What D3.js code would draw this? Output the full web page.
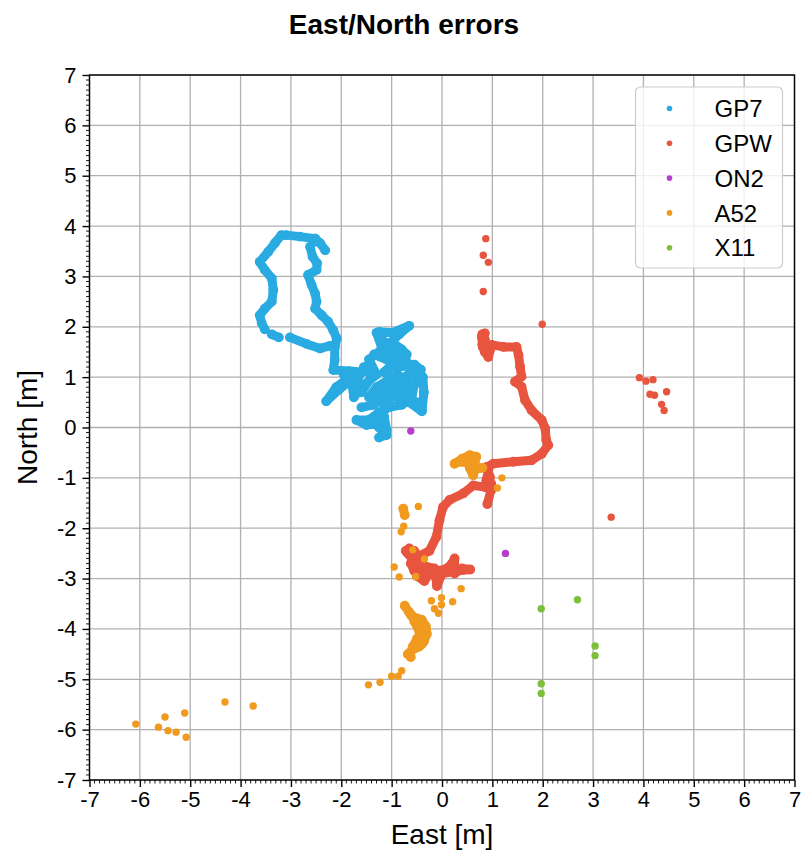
<!DOCTYPE html>
<html>
<head>
<meta charset="utf-8">
<script src="https://cdn.jsdelivr.net/npm/d3@7"></script>
<style>
  body { margin: 0; background: #fff; }
  svg { display: block; font-family: "Liberation Sans", Arial, sans-serif; }
</style>
</head>
<body>
<svg id="chart" width="802" height="856"></svg>
<script>
// ---------------- DATA ----------------
const seriesNames = ["GP7", "GPW", "ON2", "A52", "X11"];
const seriesColors = ["#29abe2", "#e8553f", "#b53fca", "#f09a1f", "#7dbf3b"];
const xTicks = [-7, -6, -5, -4, -3, -2, -1, 0, 1, 2, 3, 4, 5, 6, 7];
const yTicks = [-7, -6, -5, -4, -3, -2, -1, 0, 1, 2, 3, 4, 5, 6, 7];

// GP7 track (null = gap in the trace)
const gp7Track = [
  [-2.32,3.52],[-2.42,3.66],[-2.52,3.75],[-2.82,3.79],[-3.09,3.82],[-3.19,3.82],[-3.32,3.66],
  [-3.45,3.49],[-3.62,3.29],[-3.52,3.13],[-3.38,2.96],[-3.35,2.73],[-3.38,2.50],[-3.52,2.36],
  [-3.62,2.23],[-3.58,2.07],[-3.52,1.95], null,
  [-3.38,1.85],[-3.24,1.79], null,
  [-3.02,1.79],[-2.69,1.66],[-2.42,1.57],[-2.23,1.62],[-2.13,1.60], null,
  [-2.52,3.75],[-2.62,3.59],[-2.57,3.39],[-2.48,3.26],[-2.49,3.13],[-2.66,3.03],[-2.59,2.83],
  [-2.52,2.66],[-2.49,2.50],[-2.52,2.36],[-2.39,2.23],[-2.26,2.10],[-2.16,1.93],[-2.09,1.77],
  [-2.13,1.60],[-2.13,1.34],[-2.16,1.14],
  [-1.85,1.12],[-1.60,1.10],[-1.90,0.95],[-2.10,0.80],[-2.30,0.52],[-2.05,0.75],[-1.80,0.95],
  [-1.75,0.60],[-1.55,0.85],[-1.30,1.05],[-1.45,1.35],[-1.25,1.50],[-1.00,1.60],[-1.20,1.75],
  [-1.25,1.90],[-1.00,1.88],[-0.65,2.02],[-0.85,1.85],[-1.00,1.70],[-0.80,1.55],[-0.70,1.45],
  [-0.95,1.30],[-1.15,1.10],[-0.90,0.90],[-0.60,1.10],[-0.45,1.10],[-0.38,1.00],[-0.36,0.70],
  [-0.40,0.32],[-0.65,0.50],[-0.85,0.75],[-1.05,0.95],[-1.30,0.80],[-1.45,0.60],[-1.20,0.50],
  [-1.00,0.65],[-0.75,0.85],[-0.55,0.85],[-0.60,0.60],[-0.80,0.45],[-1.05,0.40],[-1.25,0.30],
  [-1.45,0.15],[-1.70,0.15],[-1.50,0.05],[-1.25,0.10],[-1.15,0.22],[-1.10,-0.05],[-1.25,-0.20],
  [-1.10,-0.15], null,
  [-1.90,1.00],[-1.60,0.70],[-1.40,1.00],[-1.55,1.20],[-1.70,0.90],[-1.95,1.05], null,
  [-1.00,1.20],[-0.70,1.30],[-0.50,1.00],[-0.60,0.75],[-0.90,0.60],[-1.10,0.80],[-0.90,1.05],[-0.70,0.95], null,
  [-1.35,1.45],[-1.10,1.35],[-0.85,1.20],[-0.55,1.25],[-0.42,1.15], null,
  [-1.60,0.40],[-1.35,0.45],[-1.20,0.70],[-1.05,0.55], null,
  [-0.50,0.50],[-0.40,0.35], null,
  [-1.30,1.88],[-1.20,1.60],[-1.10,1.45],[-0.95,1.48], null,
  [-1.25,0.00],[-1.15,-0.10],[-1.20,0.05]
];

// GPW track
const gpwTrack = [
  [0.85,1.87],[0.79,1.80],[0.81,1.60],[0.85,1.50],[0.92,1.40],[0.99,1.64],[1.22,1.60],[1.48,1.60],
  [1.52,1.44],[1.55,1.21],[1.58,1.01],[1.45,0.91],[1.58,0.81],[1.65,0.54],[1.78,0.34],[1.98,0.15],
  [2.05,-0.02],[2.07,-0.25],[2.11,-0.35],[1.98,-0.52],[1.78,-0.65],[1.42,-0.68],[1.02,-0.72],
  [0.89,-0.78],[0.95,-0.98],[0.97,-1.25],[0.90,-1.52],[0.97,-1.25],[0.85,-1.18],[0.62,-1.15],
  [0.42,-1.31],[0.15,-1.44],[0.02,-1.58],[-0.05,-1.84],[-0.11,-2.17],[-0.25,-2.45],[-0.45,-2.55],
  [-0.65,-2.40],[-0.72,-2.45],[-0.60,-2.60],[-0.45,-2.75],[-0.50,-2.95],[-0.35,-3.05],[-0.25,-2.90],
  [-0.10,-2.85],[0.10,-2.80],[0.20,-2.70],[0.25,-2.60],[0.25,-2.90],[0.40,-2.80],[0.56,-2.82],
  [0.30,-2.85],[0.00,-2.90],[-0.10,-3.15],[-0.15,-2.80],[-0.35,-2.75], null,
  [-0.68,-2.50],[-0.55,-2.45],[-0.50,-2.62],[-0.62,-2.70],[-0.55,-2.85],[-0.42,-2.88], null,
  [0.80,1.85],[0.85,1.75],[0.80,1.65],[0.90,1.52], null,
  [0.92,-0.85],[0.88,-1.05],[0.98,-1.12]
];
// GPW isolated fixes
const gpwPoints = [
  [0.87,3.75],[0.82,3.42],[0.92,3.28],[0.82,2.70],[1.99,2.05],
  [3.92,0.99],[4.05,0.92],[4.19,0.95],[4.46,0.71],[4.13,0.66],[4.22,0.64],[4.36,0.46],[4.41,0.34],
  [3.36,-1.78]
];

const on2Points = [[-0.62,-0.07],[1.26,-2.50]];

// A52 tracks and fixes
const a52Track = [
  [0.25,-0.72],[0.40,-0.62],[0.55,-0.55],[0.68,-0.58],[0.65,-0.75],[0.60,-0.90],[0.70,-0.82],[0.80,-0.80], null,
  [0.35,-0.68],[0.50,-0.70],[0.62,-0.68],[0.55,-0.80],[0.62,-0.95], null,
  [-0.74,-3.54],[-0.66,-3.66],[-0.57,-3.76],[-0.40,-3.82],[-0.32,-3.95],[-0.30,-4.10],[-0.36,-4.25],
  [-0.45,-4.35],[-0.60,-4.42],[-0.68,-4.50],[-0.62,-4.56], null,
  [-0.55,-3.85],[-0.45,-4.05],[-0.40,-4.30], null,
  [-0.62,-3.72],[-0.48,-3.92],[-0.38,-4.00],[-0.50,-4.20],[-0.58,-4.35], null,
  [-0.77,-1.61],[-0.74,-1.74]
];
const a52Points = [
  [1.19,-1.00],[1.10,-1.20],[-0.47,-1.57],[-0.76,-1.96],[-0.81,-2.07],[-0.58,-2.43],[-0.35,-2.61],
  [-0.95,-2.77],[-0.85,-2.97],[-0.52,-2.96],[0.38,-3.20],[-0.21,-3.44],[-0.01,-3.38],[-0.01,-3.52],
  [0.21,-3.46],[-0.15,-3.60],[-0.07,-3.69],
  [-0.80,-4.83],[-0.87,-4.94],[-1.00,-4.94],[-1.23,-5.06],[-1.46,-5.11],
  [-6.08,-5.89],[-5.50,-5.75],[-5.11,-5.67],[-5.63,-5.95],[-5.44,-6.02],[-5.28,-6.05],[-5.08,-6.15],
  [-4.31,-5.45],[-3.75,-5.53]
];

const x11Points = [[1.97,-3.60],[2.69,-3.42],[3.04,-4.34],[3.04,-4.53],[1.97,-5.09],[1.97,-5.28]];

// ---------------- CHART ----------------
const svg = d3.select("#chart");
const L = 89.5, R = 794.5, T = 75, B = 780;
const x = d3.scaleLinear().domain([-7, 7]).range([L, R]);
const y = d3.scaleLinear().domain([-7, 7]).range([B, T]);

// grid
const grid = svg.append("g");
grid.selectAll(".gx").data(xTicks).join("line")
  .attr("x1", d => x(d)).attr("x2", d => x(d)).attr("y1", T).attr("y2", B)
  .attr("stroke", "#b0b0b0").attr("stroke-width", 1.3);
grid.selectAll(".gy").data(yTicks).join("line")
  .attr("y1", d => y(d)).attr("y2", d => y(d)).attr("x1", L).attr("x2", R)
  .attr("stroke", "#b0b0b0").attr("stroke-width", 1.3);

// data
const plot = svg.append("g");
const line = d3.line().defined(d => d !== null).x(d => x(d[0])).y(d => y(d[1]))
  .curve(d3.curveLinear);

function drawTrack(data, color, w) {
  plot.append("path").datum(data).attr("d", line)
    .attr("fill", "none").attr("stroke", color).attr("stroke-width", w)
    .attr("stroke-linecap", "round").attr("stroke-linejoin", "round");
  plot.append("g").selectAll("circle").data(data.filter(d => d !== null)).join("circle")
    .attr("cx", d => x(d[0])).attr("cy", d => y(d[1])).attr("r", w / 2 + 0.4).attr("fill", color);
}
function drawPoints(data, color) {
  plot.append("g").selectAll("circle").data(data).join("circle")
    .attr("cx", d => x(d[0])).attr("cy", d => y(d[1])).attr("r", 3.7).attr("fill", color);
}

drawTrack(gp7Track, seriesColors[0], 9);
drawTrack(gpwTrack, seriesColors[1], 9);
drawPoints(gpwPoints, seriesColors[1]);
drawPoints(on2Points, seriesColors[2]);
drawTrack(a52Track, seriesColors[3], 9);
drawPoints(a52Points, seriesColors[3]);
drawPoints(x11Points, seriesColors[4]);

// axes
const xAxis = d3.axisBottom(x).tickValues(xTicks).tickFormat(d => String(d)).tickSize(7).tickPadding(4);
const yAxis = d3.axisLeft(y).tickValues(yTicks).tickFormat(d => String(d)).tickSize(7).tickPadding(6);
const minor = d3.range(-70, 71).filter(v => v % 10 !== 0).map(v => v / 10);

const gx = svg.append("g").attr("transform", `translate(0,${B})`).call(xAxis);
const gy = svg.append("g").attr("transform", `translate(${L},0)`).call(yAxis);
[gx, gy].forEach(g => {
  g.select(".domain").remove();
  g.selectAll(".tick line").attr("stroke", "#000").attr("stroke-width", 1.4);
  g.selectAll(".tick text").attr("fill", "#000").style("font-size", "22px")
    .style("font-family", '"Liberation Sans", Arial, sans-serif');
});
svg.append("g").selectAll("line").data(minor).join("line")
  .attr("x1", d => x(d)).attr("x2", d => x(d)).attr("y1", B).attr("y2", B + 3.5)
  .attr("stroke", "#000").attr("stroke-width", 0.9);
svg.append("g").selectAll("line").data(minor).join("line")
  .attr("y1", d => y(d)).attr("y2", d => y(d)).attr("x1", L).attr("x2", L - 3.5)
  .attr("stroke", "#000").attr("stroke-width", 0.9);

// frame
svg.append("rect").attr("x", L).attr("y", T).attr("width", R - L).attr("height", B - T)
  .attr("fill", "none").attr("stroke", "#000").attr("stroke-width", 1.4);

// labels
svg.append("text").attr("x", 404).attr("y", 34).attr("text-anchor", "middle")
  .style("font-size", "28px").style("font-weight", "bold").text("East/North errors");
svg.append("text").attr("x", (L + R) / 2).attr("y", 844).attr("text-anchor", "middle")
  .style("font-size", "28px").text("East [m]");
svg.append("text").attr("transform", `translate(37,${(T + B) / 2}) rotate(-90)`)
  .attr("text-anchor", "middle").style("font-size", "28px").text("North [m]");

// legend
const lg = svg.append("g");
lg.append("rect").attr("x", 635.5).attr("y", 87).attr("width", 147).attr("height", 181).attr("rx", 5)
  .attr("fill", "#fff").attr("fill-opacity", 0.8).attr("stroke", "#cccccc").attr("stroke-width", 1.2);
const rows = lg.selectAll("g.row").data(seriesNames).join("g")
  .attr("transform", (d, i) => `translate(669.5,${108.5 + i * 34.8})`);
rows.append("circle").attr("r", 2.8).attr("fill", (d, i) => seriesColors[i]);
rows.append("text").attr("x", 45).attr("dy", "0.36em").style("font-size", "24px").text(d => d);
</script>
</body>
</html>
